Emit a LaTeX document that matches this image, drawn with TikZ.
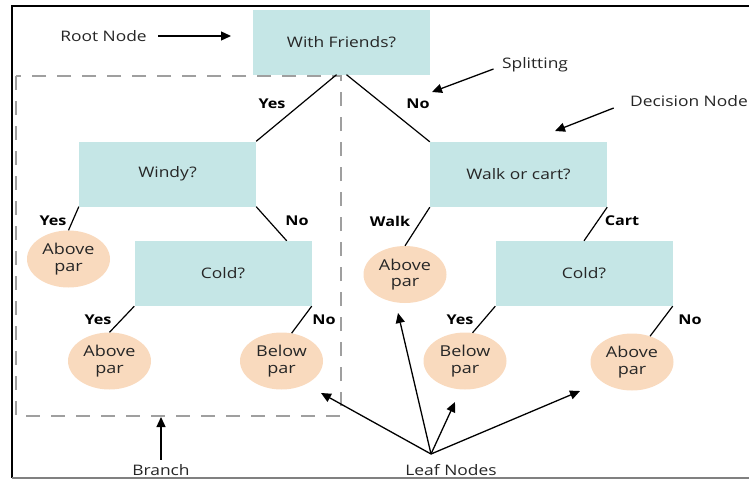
\documentclass[tikz,border=0pt]{standalone}
\usepackage{fontspec}
\setmainfont{Open Sans}[FakeStretch=1.2]
\usetikzlibrary{positioning,arrows.meta,shapes.geometric}

\definecolor{qfill}{HTML}{C5E6E6}
\definecolor{leaffill}{HTML}{F9DABE}
\definecolor{inkgray}{HTML}{262626}

\begin{document}
\begin{tikzpicture}[x=1pt, y=-1pt,
  question/.style={fill=qfill, minimum width=177pt, minimum height=65pt, inner sep=0pt, text=inkgray, font=\fontsize{14.5}{16}\selectfont},
  leaf/.style={ellipse, fill=leaffill, minimum width=83pt, minimum height=57pt, inner sep=0pt, align=center, text=inkgray, font=\fontsize{15}{16.5}\selectfont},
  answer/.style={font=\bfseries\fontsize{13.5}{16}\selectfont},
  callout/.style={text=inkgray, font=\fontsize{14.5}{16}\selectfont},
  branchline/.style={line width=1.2pt},
  pointer/.style={line width=1.3pt, -{Triangle[length=10pt,width=9pt]}},
  branchbox/.style={draw=gray!75, line width=1.2pt, dash pattern=on 14pt off 11pt},
]
\useasboundingbox (0,0) rectangle (749,479);

% Frame
\draw[line width=2.5pt] (749,6) -- (12,6) -- (12,478);
\draw[gray, line width=2pt] (12,478) -- (749,478);

% Branch box
\draw[branchbox] (16,76) rectangle (341,416);

% Decision nodes
\node[question] (friends) at (341.5,42) {With Friends?};
\node[question] (windy) at (167.5,174) {Windy?};
\node[question] (walk) at (518.5,174.5) {Walk or cart?};
\node[question] (coldL) at (223,273.5) {Cold?};
\node[question] (coldR) at (584,273.5) {Cold?};

% Leaves
\node[leaf] (aboveA) at (68.5,259) {Above\\par};
\node[leaf] (aboveB) at (109.5,361) {Above\\par};
\node[leaf] (belowA) at (281.5,361) {Below\\par};
\node[leaf] (aboveC) at (405,274.5) {Above\\par};
\node[leaf] (belowB) at (465,361) {Below\\par};
\node[leaf] (aboveD) at (632,362) {Above\\par};

% Branches
\draw[branchline] ([xshift=-5pt]friends.south) -- (windy.north east);
\draw[branchline] ([xshift=5pt]friends.south) -- (walk.north west);
\draw[branchline] (windy.south west) -- (aboveA.north);
\draw[branchline] (windy.south east) -- ([xshift=-25pt]coldL.north east);
\draw[branchline] (coldL.south west) -- (aboveB.north);
\draw[branchline] (coldL.south east) -- (belowA.70);
\draw[branchline] (walk.south west) -- (aboveC.north);
\draw[branchline] (walk.south east) -- (coldR.north);
\draw[branchline] (coldR.south west) -- (belowB.75);
\draw[branchline] (coldR.south east) -- (aboveD.55);

% Answers
\node[answer] (yesRoot) at (272,104) {Yes};
\node[answer] (noRoot) at (418,104) {No};
\node[answer] (yesWindy) at (53,221) {Yes};
\node[answer] (noWindy) at (297,221) {No};
\node[answer] (walkAns) at (390,221) {Walk};
\node[answer] (cartAns) at (622,221) {Cart};
\node[answer] (yesColdL) at (98,320) {Yes};
\node[answer] (noColdL) at (324,320) {No};
\node[answer] (yesColdR) at (460,320) {Yes};
\node[answer] (noColdR) at (690,320) {No};

% Callouts
\node[callout] (rootlbl) at (103.5,36) {Root Node};
\coordinate (rootTip) at (231,36);
\draw[pointer] ([xshift=8pt]rootlbl.east) -- (rootTip);

\node[callout] (splitlbl) at (535,65) {Splitting};
\coordinate (splitTip) at (432,92);
\draw[pointer] ([shift={(-5,4)}]splitlbl.west) -- (splitTip);

\node[callout] (decisionlbl) at (689,101) {Decision Node};
\coordinate (decisionTip) at (555,131);
\draw[pointer] ([shift={(-13,7)}]decisionlbl.west) -- (decisionTip);

\node[callout] (branchlbl) at (161,470) {Branch};
\coordinate (branchTip) at (161,417);
\draw[pointer] ([yshift=1pt]branchlbl.north) -- (branchTip);

\node[callout] (leaflbl) at (451,470) {Leaf Nodes};
\coordinate (leafFoot) at (431,454);
\coordinate (leafTipA) at (321,393);
\coordinate (leafTipB) at (398,313);
\coordinate (leafTipC) at (455,402);
\coordinate (leafTipD) at (580,391);
\foreach \t in {leafTipA,leafTipB,leafTipC,leafTipD}
  \draw[pointer] (leafFoot) -- (\t);

\end{tikzpicture}
\end{document}
